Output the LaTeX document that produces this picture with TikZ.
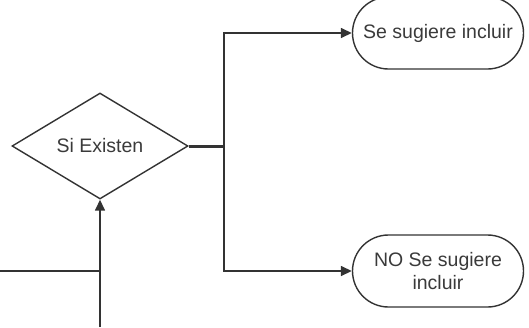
\documentclass[tikz,border=0pt]{standalone}
\usepackage{fontspec}
\setmainfont{Liberation Sans}
\usetikzlibrary{shapes.geometric,shapes.misc,arrows.meta}
\definecolor{ln}{HTML}{333333}
\definecolor{tx}{HTML}{3A3A3A}
\begin{document}
\begin{tikzpicture}[x=1pt,y=-1pt,
  every node/.style={font=\fontsize{19.5}{23}\selectfont, text=tx},
  decision/.style={diamond, draw=ln, line width=1.4pt, minimum width=176pt, minimum height=106pt, inner sep=0pt},
  terminal/.style={rounded rectangle, draw=ln, line width=1.4pt, minimum width=175pt, minimum height=72pt, align=center, inner sep=2pt},
  conn/.style={draw=ln, line width=1.5pt},
  arr/.style={conn, -{Triangle[length=11pt,width=10pt]}}]
\useasboundingbox (0,0) rectangle (529,327);
\node[decision] (d) at (100,146) {Si Existen};
\node[terminal] (t1) at (438,33) {Se sugiere incluir};
\node[terminal] (t2) at (438,271) {NO Se sugiere\\incluir};
\coordinate (j) at (224,146);
\coordinate (left) at (0,271);
\coordinate (jl) at (100,271);
\coordinate (bot) at (100,327);
\draw[conn, line width=3pt] (d.east) -- (j);
\draw[arr] (j) |- (t1.west);
\draw[arr] (j) |- (t2.west);
\draw[arr] (bot) -- (d.south);
\draw[conn] (left) -- (jl);
\end{tikzpicture}
\end{document}
